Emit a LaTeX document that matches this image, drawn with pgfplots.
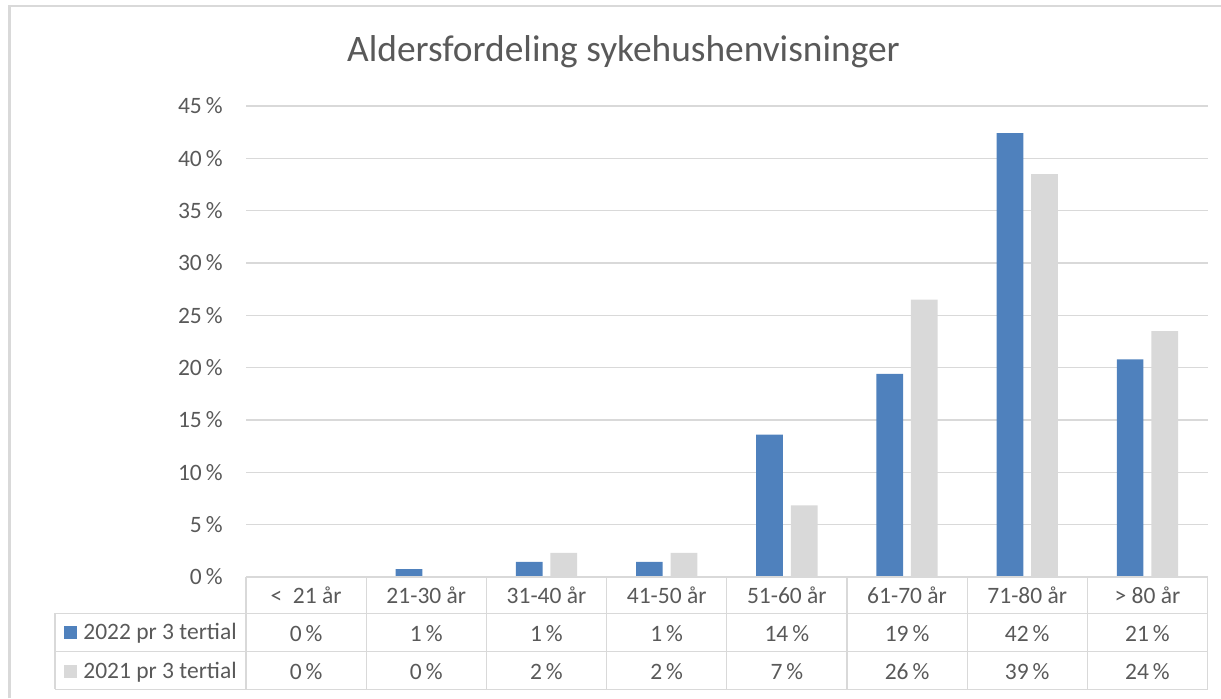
\documentclass[border=0pt]{standalone}
\usepackage{fontspec}
\setmainfont{Carlito}
\usepackage{pgfplots}
\pgfplotsset{compat=1.18}
\usepackage{pgfplotstable}
\usetikzlibrary{calc}

\definecolor{blue22}{HTML}{4F81BD}
\definecolor{grey21}{HTML}{D9D9D9}
\definecolor{txt}{HTML}{595959}
\definecolor{gridc}{HTML}{D9D9D9}

% andel (%) per aldersgruppe, lest av stolpene
\pgfplotstableread{
idx y2022 y2021
0 0.0  0.0
1 0.75 0.0
2 1.45 2.3
3 1.45 2.3
4 13.6 6.85
5 19.4 26.5
6 42.4 38.5
7 20.8 23.5
}\agedata

\newcommand{\tabfont}{\fontsize{11.75}{19}\selectfont}

\begin{document}
\begin{tikzpicture}
\path[use as bounding box] (0,0) rectangle (610.5pt,349pt);
% chart border
\draw[gridc, line width=1.25pt] (4.75pt,0) -- (4.75pt,346pt) -- (612pt,346pt);

\begin{axis}[
  at={(123pt,60.5pt)}, anchor=south west,
  scale only axis,
  width=480.75pt, height=235.5pt,
  xmin=-0.5, xmax=7.5, ymin=0, ymax=45,
  enlargelimits=false,
  clip=false,
  axis line style={draw=none},
  tick style={draw=none},
  ymajorgrids,
  grid style={gridc, line width=0.7pt},
  ytick={0,5,...,45},
  yticklabels={0\,\%,5\,\%,10\,\%,15\,\%,20\,\%,25\,\%,30\,\%,35\,\%,40\,\%,45\,\%},
  yticklabel style={font=\tabfont, text=txt, anchor=east, inner sep=0pt, xshift=-11.5pt},
  xtick={0,...,7},
  xticklabels={
    {\rule{0pt}{10pt}<\ \ 21 år\\0\,\%\\0\,\%},
    {\rule{0pt}{10pt}21-30 år\\1\,\%\\0\,\%},
    {\rule{0pt}{10pt}31-40 år\\1\,\%\\2\,\%},
    {\rule{0pt}{10pt}41-50 år\\1\,\%\\2\,\%},
    {\rule{0pt}{10pt}51-60 år\\14\,\%\\7\,\%},
    {\rule{0pt}{10pt}61-70 år\\19\,\%\\26\,\%},
    {\rule{0pt}{10pt}71-80 år\\42\,\%\\39\,\%},
    {\rule{0pt}{10pt}> 80 år\\21\,\%\\24\,\%}},
  xticklabel style={font=\tabfont, text=txt, align=center, anchor=north, inner sep=0pt, yshift=-2.8pt},
  title={Aldersfordeling sykehushenvisninger},
  title style={font=\fontsize{18.7}{22}\selectfont, text=txt, anchor=base, inner sep=0pt,
    at={(axis description cs:0.3926,1.0686)}},
]
\addplot[ybar, fill=blue22, draw=none, bar width=13.35pt, bar shift=-8.65pt]
  table[x=idx, y=y2022] {\agedata};
\addplot[ybar, fill=grey21, draw=none, bar width=13.35pt, bar shift=8.65pt]
  table[x=idx, y=y2021] {\agedata};

% data table grid
\draw[gridc, line width=0.6pt] (axis cs:-0.5,0) -- (axis cs:7.5,0);
\draw[gridc, line width=0.6pt] ($(axis cs:-0.5,0)+(-95.5pt,-18.15pt)$) -- ($(axis cs:7.5,0)+(0pt,-18.15pt)$);
\draw[gridc, line width=0.6pt] ($(axis cs:-0.5,0)+(-95.5pt,-37.35pt)$) -- ($(axis cs:7.5,0)+(0pt,-37.35pt)$);
\draw[gridc, line width=0.6pt] ($(axis cs:-0.5,0)+(-95.5pt,-56.15pt)$) -- ($(axis cs:7.5,0)+(0pt,-56.15pt)$);
\draw[gridc, line width=0.6pt] ($(axis cs:-0.5,0)+(-95.5pt,-18.15pt)$) -- ($(axis cs:-0.5,0)+(-95.5pt,-56.15pt)$);
\pgfplotsinvokeforeach{-0.5,0.5,1.5,2.5,3.5,4.5,5.5,6.5,7.5}{
  \draw[gridc, line width=0.6pt] (axis cs:#1,0) -- ($(axis cs:#1,0)+(0pt,-56.15pt)$);
}
% series keys in the table
\fill[blue22] ($(axis cs:-0.5,0)+(-91pt,-24.5pt)$) rectangle ++(6.5pt,-6.5pt);
\fill[grey21] ($(axis cs:-0.5,0)+(-91pt,-43.75pt)$) rectangle ++(6.5pt,-6.5pt);
\node[font=\tabfont, text=txt, anchor=base west, inner sep=0pt]
  at ($(axis cs:-0.5,0)+(-81.5pt,-31.3pt)$) {2022 pr 3 tertial};
\node[font=\tabfont, text=txt, anchor=base west, inner sep=0pt]
  at ($(axis cs:-0.5,0)+(-81.5pt,-50.55pt)$) {2021 pr 3 tertial};
\end{axis}
\end{tikzpicture}
\end{document}
